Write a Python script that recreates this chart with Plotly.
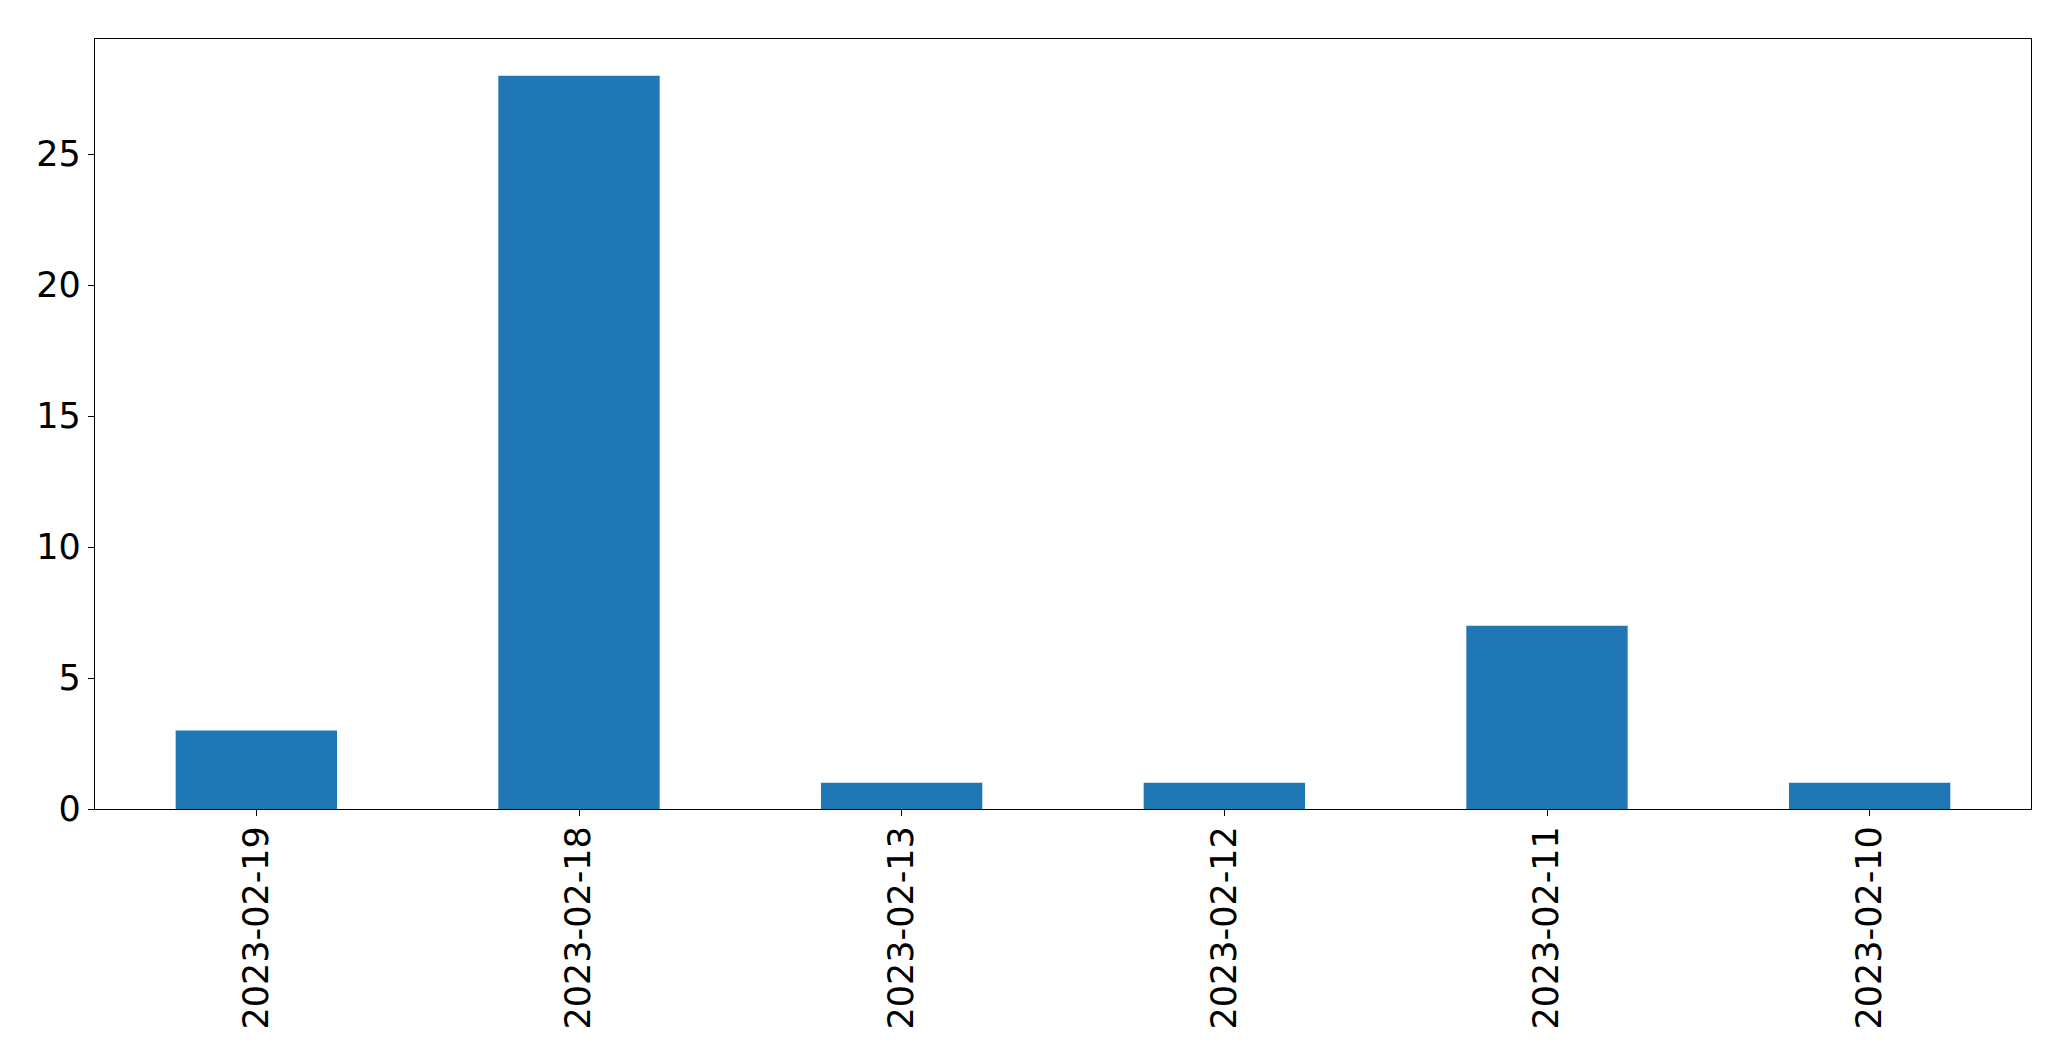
import plotly.graph_objects as go

dates = ["2023-02-19", "2023-02-18", "2023-02-13", "2023-02-12", "2023-02-11", "2023-02-10"]
counts = [3, 28, 1, 1, 7, 1]
y_ticks = [0, 5, 10, 15, 20, 25]

fig = go.Figure(
    go.Bar(x=dates, y=counts, marker=dict(color="#1f77b4", line=dict(width=0)), width=0.5)
)

axis_common = dict(
    showline=True, linecolor="black", linewidth=1.3, mirror=True,
    ticks="outside", ticklen=6, tickwidth=1.3, tickcolor="black",
    showgrid=False, zeroline=False,
    tickfont=dict(family="DejaVu Sans", size=35, color="black"),
)

# the page body has an 8px default margin; compensate so the plot area lands where the reference has it
fig.update_layout(
    width=2071, height=1061,
    margin=dict(l=87, r=48, t=31, b=260),
    plot_bgcolor="white", paper_bgcolor="white",
    showlegend=False,
)
fig.update_xaxes(type="category", tickangle=-90, range=[-0.5, 5.5], ticklabelstandoff=-4, **axis_common)
fig.update_yaxes(range=[0, 29.4], tickvals=y_ticks, ticktext=[str(v) for v in y_ticks], **axis_common)

fig.write_html("out.html")
